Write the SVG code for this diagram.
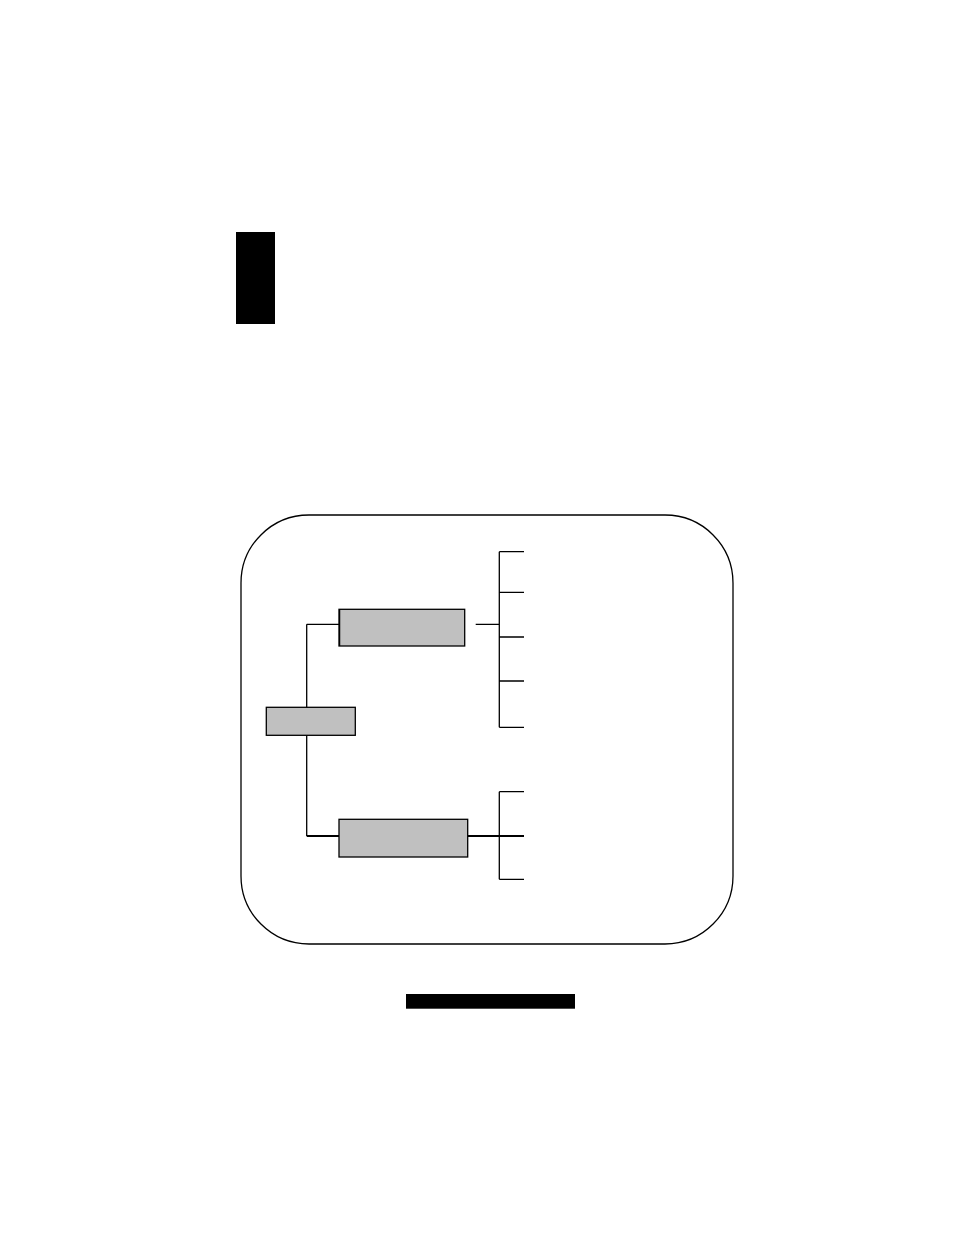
<svg xmlns="http://www.w3.org/2000/svg" width="954" height="1235" viewBox="0 0 954 1235">
<style>
.box{fill:#c0c0c0;stroke:#000;stroke-width:1.3}
.ln{fill:none;stroke:#000;stroke-width:1.3}
.thick{fill:none;stroke:#000;stroke-width:2.2}
</style>
<rect width="954" height="1235" fill="#fff"/>
<rect id="tab" x="236" y="232" width="39" height="92" fill="#000"/>
<rect id="frame" x="241" y="515" width="492" height="429" rx="68" ry="68" fill="none" stroke="#000" stroke-width="1.3"/>
<g id="connectors">
<path class="ln" d="M306.7,624.3 H339 M306.7,624.3 V836"/>
<path class="thick" d="M306.7,836 H339"/>
<path class="ln" d="M475.7,624.3 H499.3 M499.3,551.7 V727.3 M499.3,551.7 H524 M499.3,592.3 H524 M499.3,637 H524 M499.3,681 H524 M499.3,727.3 H524"/>
<path class="thick" d="M467.7,836 H524"/>
<path class="ln" d="M499.3,791.7 V879.3 M499.3,791.7 H524 M499.3,879.3 H524"/>
</g>
<g id="root"><rect class="box" x="266.3" y="707.3" width="89" height="28"/></g>
<g id="upper"><rect class="box" x="339" y="609.3" width="125.7" height="36.7"/><path class="ln" d="M339.6,609.3 V646" stroke-width="2"/></g>
<g id="lower"><rect class="box" x="339" y="819.3" width="128.7" height="37.7" stroke-width="1.8"/></g>
<rect id="bar" x="406" y="994" width="169" height="14.7" fill="#000"/>
</svg>
